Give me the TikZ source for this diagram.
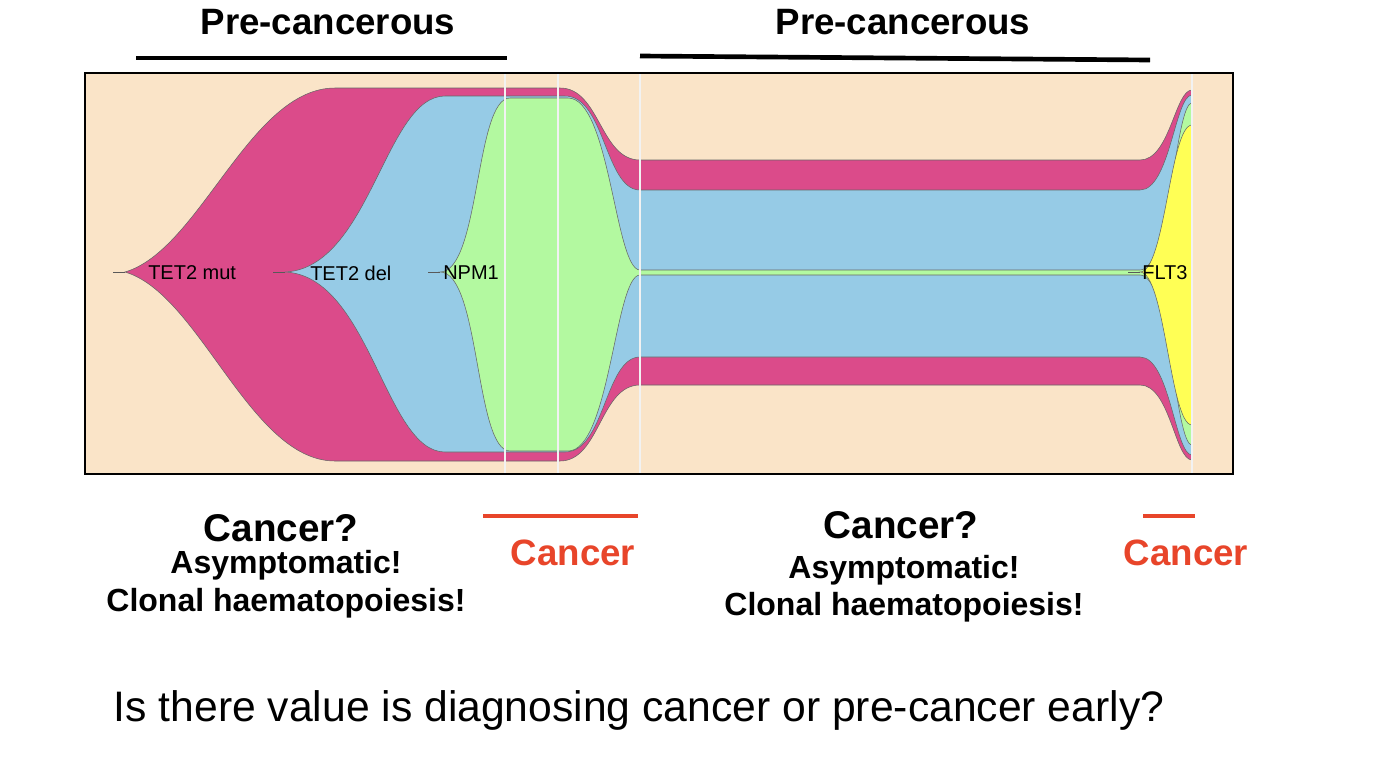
\documentclass[tikz,border=0pt]{standalone}
\usepackage{fontspec}
\setmainfont{Liberation Sans}
\definecolor{peach}{HTML}{FAE4C8}
\definecolor{fpink}{HTML}{DB4B8A}
\definecolor{fblue}{HTML}{96CBE6}
\definecolor{fgreen}{HTML}{B3F9A0}
\definecolor{fyel}{HTML}{FFFF55}
\definecolor{canc}{HTML}{E8452A}
\begin{document}
\begin{tikzpicture}[x=0.75pt,y=-0.75pt,
  clone/.style={draw=gray!80!black,line width=0.4pt},
  lab/.style={font=\fontsize{15}{15}\selectfont,anchor=west,inner sep=0},
  ttl/.style={font=\bfseries\fontsize{27.5}{27.5}\selectfont},
  qst/.style={font=\bfseries\fontsize{29}{29}\selectfont},
  sub/.style={font=\bfseries\fontsize{24}{24}\selectfont},
  cn/.style={font=\bfseries\fontsize{27.5}{27.5}\selectfont,text=canc}]
\useasboundingbox (0,0) rectangle (1384,764);
\fill[white] (0,0) rectangle (1384,764);
\fill[peach] (85,73) rectangle (1233,474);
% pink
\path[clone,fill=fpink] (125,272) .. controls (200,250) and (250,88) .. (335,88) -- (560,88) .. controls (600,88) and (600,160) .. (640,160) -- (1140,160) .. controls (1170,160) and (1175,90) .. (1192,90) -- (1192,460) .. controls (1175,460) and (1170,385) .. (1140,385) -- (640,385) .. controls (600,385) and (600,461) .. (560,461) -- (335,461) .. controls (250,461) and (200,294) .. (125,272) -- cycle;
% blue
\path[clone,fill=fblue] (285,272) .. controls (370,268) and (385,96) .. (445,96) -- (565,96) .. controls (605,96) and (605,190) .. (640,190) -- (1140,190) .. controls (1170,190) and (1175,95) .. (1192,95) -- (1192,455) .. controls (1175,455) and (1170,357) .. (1140,357) -- (640,357) .. controls (605,357) and (605,452) .. (565,452) -- (445,452) .. controls (385,452) and (370,276) .. (285,272) -- cycle;
% green
\path[clone,fill=fgreen] (440,272) .. controls (480,272) and (475,98) .. (510,98) -- (568,98) .. controls (610,98) and (615,270) .. (640,270) -- (1140,270) .. controls (1170,270) and (1175,103) .. (1192,103) -- (1192,445) .. controls (1175,445) and (1170,275) .. (1140,275) -- (640,275) .. controls (615,275) and (610,451) .. (568,451) -- (510,451) .. controls (475,451) and (480,272) .. (440,272) -- cycle;
% yellow
\path[clone,fill=fyel] (1140,272) .. controls (1165,272) and (1170,125) .. (1192,125) -- (1192,425) .. controls (1170,425) and (1165,272) .. (1140,272) -- cycle;
% lead lines
\foreach \a in {125,285,440,1140} \draw[gray!70!black,line width=0.6pt] (\a-12,272) -- (\a,272);
% white time lines
\foreach \a in {505,558,640,1192} \draw[white!90!gray,line width=1.5pt] (\a,73) -- (\a,474);
\draw[black,line width=1.2pt] (85,73) rectangle (1233,474);
\node[lab] (l1) at (148,273) {TET2 mut};
\node[lab] (l2) at (310,273) {TET2 del};
\node[lab] (l3) at (443,273) {NPM1};
\node[lab] (l4) at (1142,273) {FLT3};
% titles
\node[ttl] (t1) at (328,22) {Pre-cancerous};
\node[ttl] (t2) at (903,22) {Pre-cancerous};
\draw[line width=3.5pt] (136,58) -- (507,58);
\draw[line width=3.5pt] (640,56) -- (1150,60);
% bottom
\node[qst] (q1) at (281,528) {Cancer?};
\node[sub] (a1) at (286,565) {Asymptomatic!};
\node[sub] (c1) at (286,603) {Clonal haematopoiesis!};
\node[qst] (q2) at (901,525) {Cancer?};
\node[sub] (a2) at (904,570) {Asymptomatic!};
\node[sub] (c2) at (904,607) {Clonal haematopoiesis!};
\draw[canc,line width=3.5pt] (483,516) -- (638,516);
\draw[canc,line width=3.5pt] (1143,516) -- (1195,516);
\node[cn] (k1) at (573,553) {Cancer};
\node[cn] (k2) at (1186,553) {Cancer};
\node[font=\fontsize{32}{32}\selectfont] (qq) at (639,710) {Is there value is diagnosing cancer or pre-cancer early?};
\end{tikzpicture}
\end{document}
